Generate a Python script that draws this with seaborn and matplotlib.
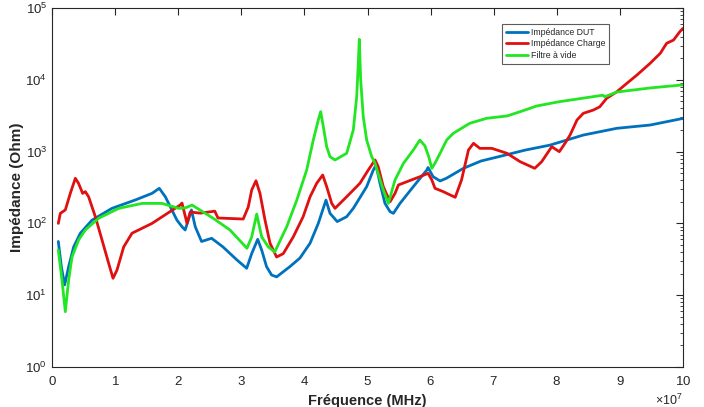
import numpy as np
import pandas as pd
import matplotlib
matplotlib.use("Agg")
import matplotlib.pyplot as plt
import matplotlib.ticker as mticker
import seaborn as sns

# ---- data (frequency in MHz, impedance in Ohm) ----
dut_f = [1.0, 1.48, 2.0, 2.64, 3.43, 4.49, 6.34, 9.5, 13.2, 15.85, 17.0, 17.96, 19.0, 19.8,
         20.6, 21.1, 21.6, 22.1, 22.7, 23.7, 25.3, 27.1, 29.3, 30.85, 31.65, 32.6, 33.23,
         34.0, 34.8, 35.6, 37.7, 39.3, 40.9, 42.2, 43.42, 44.06, 45.2, 46.7, 47.75, 49.87,
         50.92, 51.35, 51.98, 52.77, 53.57, 54.1, 55.15, 57.26, 59.4, 59.6, 60.4, 61.5,
         62.5, 65.2, 68.0, 71.5, 75.0, 78.9, 84.2, 89.5, 94.8, 100.0]
dut_z = [56, 25, 13.9, 25, 47, 73, 111, 162, 212, 262, 308, 235, 154, 111,
         90, 81, 111, 154, 90, 56, 62, 47, 31, 23.7, 38, 60, 42.6,
         25, 19.1, 18, 25, 33, 53, 100, 211, 138, 106, 124, 162, 325,
         554, 650, 362, 190, 146, 138, 190, 325, 554, 600, 447, 390,
         425, 585, 740, 880, 1050, 1230, 1700, 2110, 2345, 2900]

chg_f = [1.0, 1.32, 2.11, 2.9, 3.7, 4.2, 4.86, 5.28, 5.8, 6.87, 7.92, 8.98, 9.67, 10.3,
         11.36, 12.68, 15.85, 20.3, 20.6, 21.4, 21.9, 23.5, 25.8, 26.3, 30.3, 31.1, 31.65,
         32.33, 32.96, 33.76, 34.55, 35.6, 36.66, 38.24, 39.8, 40.9, 41.95, 42.9, 43.53,
         44.33, 44.85, 46.7, 48.8, 50.1, 51.2, 51.7, 52.5, 53.57, 54.36, 54.9, 58.3, 59.6,
         60.2, 60.7, 62.0, 63.1, 63.9, 64.9, 66.0, 66.8, 67.8, 69.7, 72.1, 74.2, 76.5,
         77.6, 79.2, 80.4, 81.3, 82.1, 83.2, 84.2, 85.8, 86.8, 87.9, 89.5, 91.1, 92.7,
         94.8, 96.4, 97.4, 98.5, 99.5, 100.0]
chg_z = [100, 138, 154, 262, 425, 362, 262, 277, 235, 124, 59, 27.8, 17.2, 22.4,
         47, 73, 100, 180, 192, 100, 144, 139, 148, 119, 115, 169, 292,
         393, 262, 111, 53, 34, 38, 65, 124, 235, 362, 472, 325,
         190, 162, 235, 362, 550, 765, 617, 325, 200, 262, 343, 447, 498,
         402, 308, 277, 249, 231, 402, 1052, 1305, 1110, 1110, 947, 723, 585,
         723, 1170, 997, 1305, 1700, 2755, 3412, 3795, 4200, 5520, 6800, 8930, 11650,
         17000, 23400, 32200, 35800, 46800, 52100]

vid_f = [1.0, 1.58, 2.11, 2.64, 3.17, 4.23, 5.28, 7.4, 10.57, 14.3, 17.4, 20.1, 21.1, 22.2,
         25.6, 28.2, 30.9, 31.65, 32.44, 33.23, 34.28, 35.3, 37.2, 38.8, 40.36, 41.41,
         42.2, 42.58, 43.0, 43.53, 44.06, 44.85, 46.7, 47.75, 48.29, 48.54, 48.7, 48.92,
         49.33, 49.87, 50.67, 51.19, 52.5, 53.3, 54.36, 55.7, 57.26, 58.3, 59.1, 59.7,
         60.2, 60.7, 61.5, 62.55, 63.6, 66.2, 68.9, 72.1, 74.2, 76.8, 80.4, 87.3, 87.6,
         89.5, 94.8, 100.0]
vid_z = [42.6, 16.3, 5.9, 16.3, 34, 59, 81, 118, 162, 190, 190, 162, 164, 180,
         117, 81, 45, 65, 135, 65, 47, 40, 90, 212, 554, 1450,
         2755, 3600, 2220, 1170, 849, 764, 947, 2000, 5820, 17000, 36600, 9930,
         3060, 1450, 849, 687, 292, 190, 402, 687, 1052, 1450, 1200, 850,
         585, 690, 947, 1450, 1800, 2477, 2911, 3133, 3597, 4315, 4955, 6100, 5800,
         6750, 7700, 8500]

labels = ["Impédance DUT", "Impédance Charge", "Filtre à vide"]
colors = ["#0072BD", "#E01010", "#22E622"]

frames = []
for lab, f, z in zip(labels, [dut_f, chg_f, vid_f], [dut_z, chg_z, vid_z]):
    frames.append(pd.DataFrame({"f": np.array(f) * 1e6, "Z": z, "serie": lab}))
df = pd.concat(frames, ignore_index=True)

sns.set_style("white")
plt.rcParams["font.family"] = ["Liberation Sans", "DejaVu Sans"]
plt.rcParams["mathtext.fontset"] = "custom"
plt.rcParams["mathtext.rm"] = "Liberation Sans"
plt.rcParams["mathtext.it"] = "Liberation Sans:italic"

fig = plt.figure(figsize=(7.04, 4.07), dpi=100)
ax = fig.add_axes([52 / 704, 1 - 367 / 407, (683 - 52) / 704, (367 - 8) / 407])

sns.lineplot(data=df, x="f", y="Z", hue="serie", palette=dict(zip(labels, colors)),
             hue_order=labels, sort=False, estimator=None, units="serie",
             linewidth=2.0, ax=ax, legend=True)

ax.set_yscale("log")
ax.set_xlim(0, 1e8)
ax.set_ylim(1, 1e5)
ax.set_xticks(np.arange(0, 1.01e8, 1e7))
fmt = mticker.ScalarFormatter(useMathText=True)
fmt.set_powerlimits((7, 7))
ax.xaxis.set_major_formatter(fmt)
ax.yaxis.set_major_locator(mticker.LogLocator(base=10, numticks=10))
ax.yaxis.set_minor_locator(mticker.LogLocator(base=10, subs=np.arange(2, 10), numticks=20))
ax.yaxis.set_minor_formatter(mticker.NullFormatter())

for s in ax.spines.values():
    s.set_color("#262626")
    s.set_linewidth(0.8)
ax.tick_params(which="both", direction="in", top=True, right=True, colors="#262626",
               labelsize=9.5, labelcolor="#262626")
ax.tick_params(which="major", length=5, width=0.8)
ax.tick_params(which="minor", length=2.5, width=0.6)
ax.tick_params(axis="x", which="major", pad=6)
ax.xaxis.get_offset_text().set_fontsize(9)
ax.xaxis.get_offset_text().set_color("#262626")

ax.set_xlabel("Fréquence (MHz)", fontsize=10.5, fontweight="bold", labelpad=4)
ax.set_ylabel("Impédance (Ohm)", fontsize=11, fontweight="bold", labelpad=1)

leg = ax.legend(loc="upper right", bbox_to_anchor=(0.882, 0.955), fontsize=6.3,
                frameon=True, fancybox=False, edgecolor="#333333", handlelength=2.6,
                handletextpad=0.25, borderpad=0.4, labelspacing=0.32, borderaxespad=0)
leg.get_frame().set_linewidth(0.8)
leg.set_title(None)

fig.savefig("out.png", dpi=100)
